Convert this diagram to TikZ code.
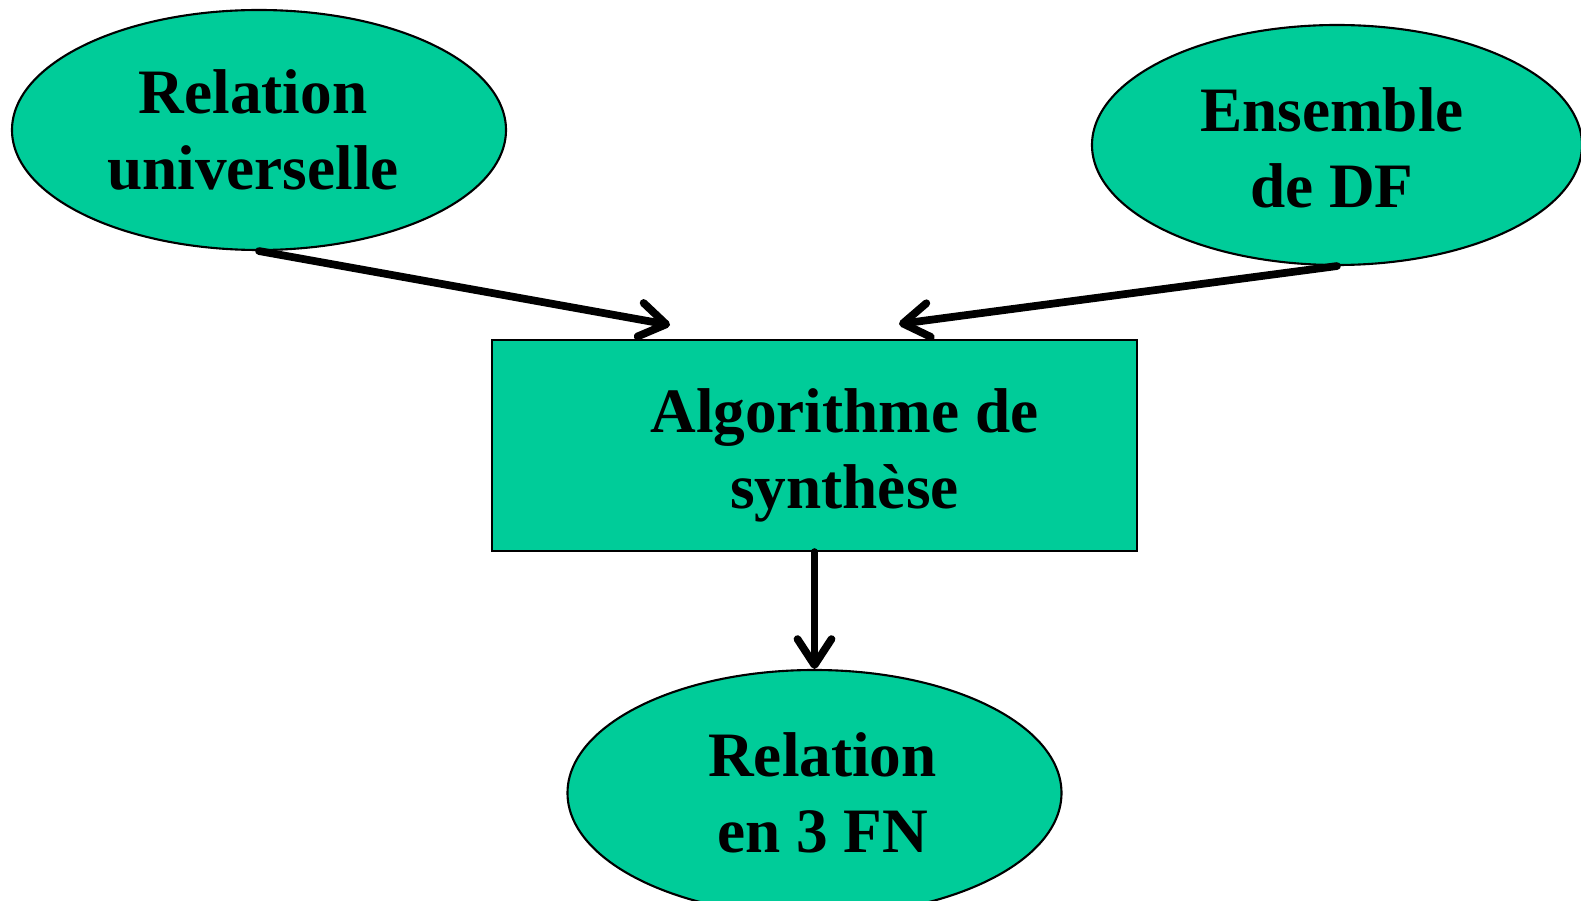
\documentclass[tikz,border=0pt]{standalone}
\usepackage{fontspec}
\setmainfont{Liberation Serif}
\usetikzlibrary{shapes.geometric,arrows.meta}
\definecolor{vert}{RGB}{0,204,153}
\tikzset{
	bulle/.style={ellipse,draw,fill=vert,line width=0.6pt,inner sep=0pt,align=center,font=\fontsize{18}{21.6}\selectfont\bfseries},
	boite/.style={rectangle,draw,fill=vert,line width=0.6pt,inner sep=0pt,align=center,font=\fontsize{18}{21.6}\selectfont\bfseries},
	fleche/.style={line width=2.2pt,line cap=round,-{Straight Barb[length=2.6mm,width=3.4mm,line cap=round,line join=round]}}
}
\begin{document}
			\begin{tikzpicture}
				\useasboundingbox (0,0) rectangle (15.81,9);
				\node[bulle,minimum width=4.94cm,minimum height=2.4cm] (univ) at (2.59,7.70) {Relation\hspace*{0.12cm}\\universelle\hspace*{0.12cm}};
				\node[bulle,minimum width=4.9cm,minimum height=2.4cm] (df) at (13.37,7.55) {\rule{0pt}{0.5cm}Ensemble\hspace*{0.1cm}\\de DF\hspace*{0.1cm}};
				\node[boite,minimum width=6.45cm,minimum height=2.11cm] (algo) at (8.145,4.545) {\hspace*{0.6cm}\rule{0pt}{0.63cm}Algorithme de\\\hspace*{0.6cm}synth\`ese};
				\node[bulle,minimum width=4.94cm,minimum height=2.46cm] (fn) at (8.145,1.07) {\hspace*{0.16cm}Relation\\\hspace*{0.16cm}en 3 FN};
				\coordinate (p1) at (6.70,5.75);
				\coordinate (p2) at (8.99,5.76);
				\draw[fleche] (univ.south) -- (p1);
				\draw[fleche] (df.south) -- (p2);
				\draw[fleche] (algo.south) -- (fn.north);
			\end{tikzpicture}
\end{document}
